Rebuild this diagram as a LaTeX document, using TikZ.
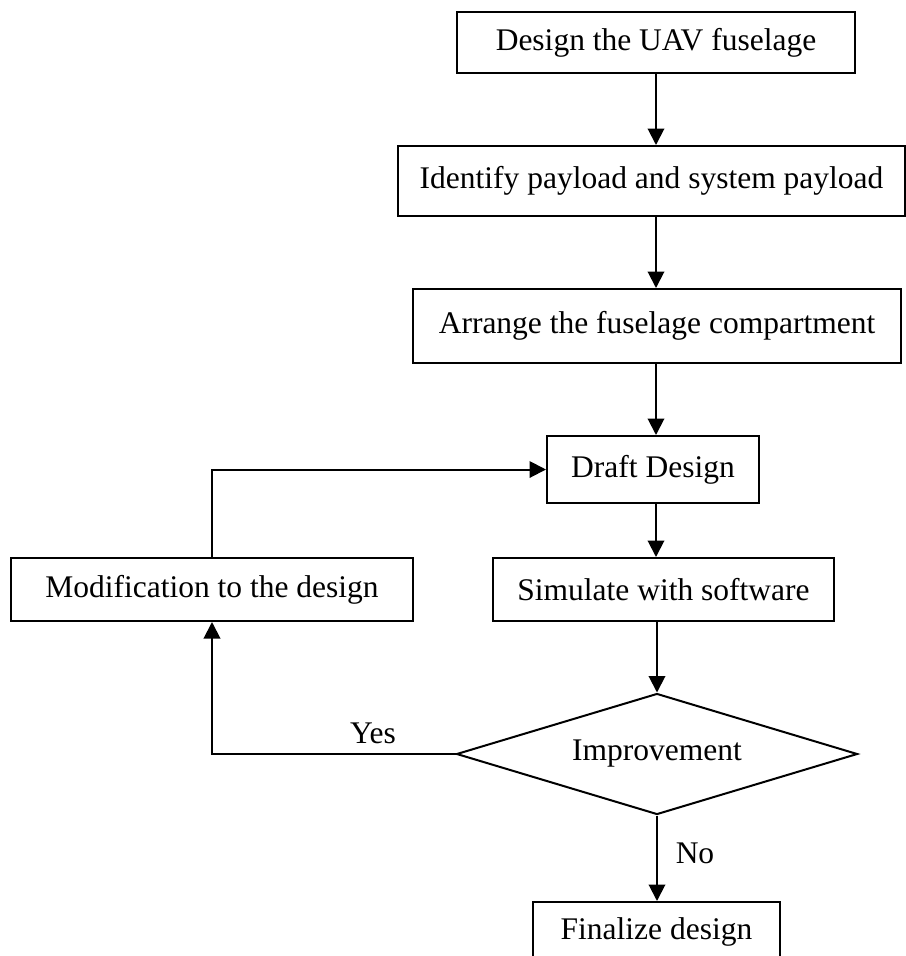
\documentclass[tikz,border=0pt]{standalone}
\usepackage{fontspec}
\setmainfont{Liberation Serif}
\usetikzlibrary{shapes.geometric,arrows.meta}

\tikzset{
  stepbox/.style={draw, line width=0.8pt, inner sep=0pt, align=center,
                  font=\fontsize{12.6pt}{15pt}\selectfont},
  decbox/.style={stepbox, diamond, aspect=3.3},
  flow/.style={line width=0.8pt, -{Triangle[length=6.6pt,width=6.6pt]}}
}

\begin{document}
\begin{tikzpicture}[x=0.4pt,y=-0.4pt]
\useasboundingbox (0,0) rectangle (906,956);
\node[stepbox, minimum width=398*0.4pt, minimum height=61*0.4pt] (des) at (656,42.5) {Design the UAV fuselage};
\node[stepbox, minimum width=507*0.4pt, minimum height=70*0.4pt] (ident) at (651.5,181) {Identify payload and system payload};
\node[stepbox, minimum width=488*0.4pt, minimum height=74*0.4pt] (arr) at (657,326) {Arrange the fuselage compartment};
\node[stepbox, minimum width=212*0.4pt, minimum height=67*0.4pt] (draft) at (653,469.5) {Draft Design};
\node[stepbox, minimum width=341*0.4pt, minimum height=63*0.4pt] (sim) at (663.5,589.5) {Simulate with software};
\node[stepbox, minimum width=402*0.4pt, minimum height=63*0.4pt] (mod) at (212,589.5) {Modification to the design};
\node[decbox, minimum width=401*0.4pt, minimum height=121*0.4pt] (imp) at (657,754) {Improvement};
\node[stepbox, minimum width=247*0.4pt, minimum height=60*0.4pt] (fin) at (656.5,932) {Finalize design};
\node[font=\fontsize{12.6pt}{15pt}\selectfont] (yes) at (373,733) {Yes};
\node[font=\fontsize{12.6pt}{15pt}\selectfont] (no) at (695,853) {No};

\draw[flow] (des.south) -- (des.south |- ident.north);
\draw[flow] (des.south |- ident.south) -- (des.south |- arr.north);
\draw[flow] (des.south |- arr.south) -- (des.south |- draft.north);
\draw[flow] (des.south |- draft.south) -- (des.south |- sim.north);
\draw[flow] (imp.north |- sim.south) -- (imp.north);
\draw[flow] (imp.south) -- (imp.south |- fin.north);
\draw[flow] (imp.west) -| (mod.south);
\draw[flow] (mod.north) |- (draft.west);
\end{tikzpicture}
\end{document}
